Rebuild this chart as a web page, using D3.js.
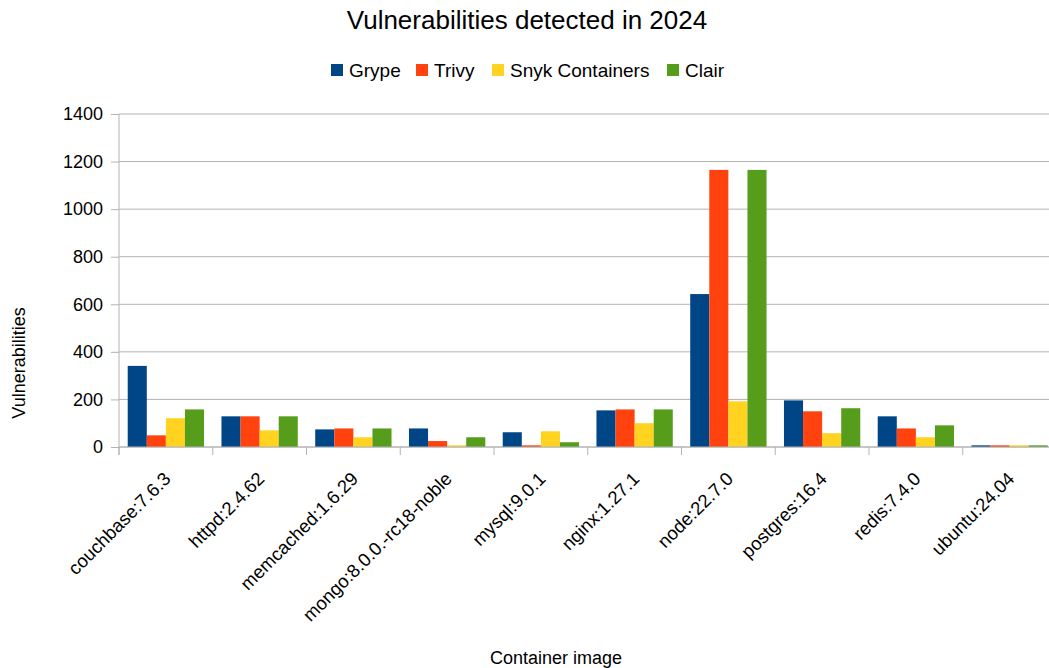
<!DOCTYPE html>
<html>
<head>
<meta charset="utf-8">
<script src="https://cdn.jsdelivr.net/npm/d3@7"></script>
<style>
  body { margin: 0; background: #fff; }
  svg { display: block; font-family: "Liberation Sans", Arial, sans-serif; }
</style>
</head>
<body>
<svg id="chart" width="1049" height="668"></svg>
<script>
const images = ['couchbase:7.6.3', 'httpd:2.4.62', 'memcached:1.6.29', 'mongo:8.0.0.-rc18-noble',
  'mysql:9.0.1', 'nginx:1.27.1', 'node:22.7.0', 'postgres:16.4', 'redis:7.4.0', 'ubuntu:24.04'];
const scanners = ['Grype', 'Trivy', 'Snyk Containers', 'Clair'];
const grype = [341, 129, 74, 78, 62, 154, 643, 196, 129, 7];
const trivy = [49, 129, 78, 25, 7, 158, 1165, 150, 78, 7];
const snyk = [121, 70, 41, 7, 66, 100, 192, 58, 41, 7];
const clair = [158, 129, 78, 41, 20, 158, 1165, 163, 91, 7];
const yTicks = [0, 200, 400, 600, 800, 1000, 1200, 1400];
const colors = ['#004586', '#ff420e', '#ffd320', '#579d1c'];

const series = [grype, trivy, snyk, clair];
const rows = images.map((name, i) => ({ name, values: series.map(s => s[i]) }));

const svg = d3.select('#chart');
const plotLeft = 119, plotRight = 1056.5, plotTop = 114, plotBottom = 447;

const x0 = d3.scaleBand().domain(images).range([plotLeft, plotRight])
  .paddingInner(0.186).paddingOuter(0.093);
const x1 = d3.scaleBand().domain(scanners).range([0, x0.bandwidth()]);
const y = d3.scaleLinear().domain([0, 1400]).range([plotBottom, plotTop]);
const color = d3.scaleOrdinal().domain(scanners).range(colors);

// grid
svg.append('g').selectAll('line').data(yTicks).join('line')
  .attr('x1', plotLeft).attr('x2', 1049)
  .attr('y1', d => y(d)).attr('y2', d => y(d))
  .attr('stroke', '#b3b3b3').attr('stroke-width', 1);

// bars
svg.append('g').selectAll('g').data(rows).join('g')
  .attr('transform', d => `translate(${x0(d.name)},0)`)
  .selectAll('rect').data(d => d.values.map((v, k) => ({ key: scanners[k], v })))
  .join('rect')
  .attr('x', d => x1(d.key))
  .attr('width', x1.bandwidth())
  .attr('y', d => y(d.v))
  .attr('height', d => y(0) - y(d.v))
  .attr('fill', d => color(d.key));

// y axis
const yAxis = svg.append('g').attr('transform', `translate(${plotLeft},0)`)
  .call(d3.axisLeft(y).tickValues(yTicks).tickFormat(d3.format('d')).tickSize(8).tickPadding(8));
yAxis.select('.domain').attr('stroke', '#b3b3b3').attr('d', `M0,${plotTop}V${plotBottom + 8}`);
yAxis.selectAll('.tick line').attr('stroke', '#b3b3b3');
yAxis.selectAll('.tick text').attr('font-size', 18).attr('fill', '#000')
  .attr('font-family', '"Liberation Sans", Arial, sans-serif');

// x axis line and boundary ticks
const step = x0.step();
const bounds = d3.range(images.length + 1).map(i => plotLeft + i * step);
svg.append('line').attr('x1', plotLeft).attr('x2', 1049).attr('y1', plotBottom).attr('y2', plotBottom)
  .attr('stroke', '#b3b3b3');
svg.append('g').selectAll('line').data(bounds).join('line')
  .attr('x1', d => d).attr('x2', d => d).attr('y1', plotBottom).attr('y2', plotBottom + 8)
  .attr('stroke', '#b3b3b3');

// x labels
svg.append('g').selectAll('text').data(images).join('text')
  .attr('transform', d => `translate(${x0(d) + x0.bandwidth() / 2 + 6},480) rotate(-45)`)
  .attr('text-anchor', 'end')
  .attr('font-size', 18.5)
  .text(d => d);

// title
svg.append('text').attr('x', 527).attr('y', 29).attr('text-anchor', 'middle')
  .attr('font-size', 26).text('Vulnerabilities detected in 2024');

// legend
const legendX = [331, 416, 492, 667];
const lg = svg.append('g').selectAll('g').data(scanners).join('g')
  .attr('transform', (d, i) => `translate(${legendX[i]},64)`);
lg.append('rect').attr('width', 12).attr('height', 12).attr('fill', d => color(d));
lg.append('text').attr('x', 18).attr('y', 13).attr('font-size', 19).text(d => d);

// axis titles
svg.append('text').attr('x', 556).attr('y', 664).attr('text-anchor', 'middle')
  .attr('font-size', 18).text('Container image');
svg.append('text').attr('transform', 'translate(25,363) rotate(-90)')
  .attr('text-anchor', 'middle').attr('font-size', 18).text('Vulnerabilities');
</script>
</body>
</html>
